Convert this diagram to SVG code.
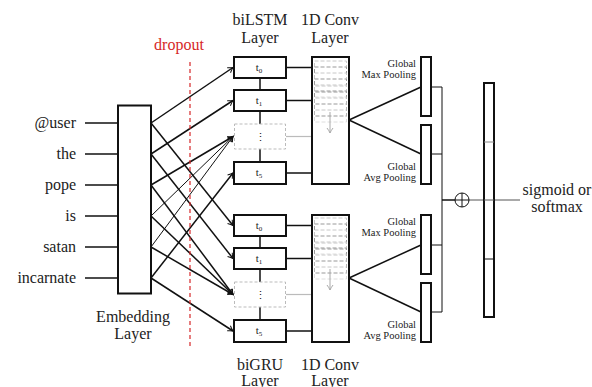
<svg xmlns="http://www.w3.org/2000/svg" width="592" height="387" viewBox="0 0 592 387">
<style>
text{font-family:'Liberation Serif','Times New Roman',serif;fill:#222}
.lbl{font-size:16px}
.mid{text-anchor:middle}
.end{text-anchor:end}
.sm{font-size:10.5px;text-anchor:end}
.tk{font-size:11px;text-anchor:middle}
.box{fill:#fff;stroke:#111;stroke-width:2}
.dot{fill:#fff;stroke:#bbb;stroke-width:1;stroke-dasharray:3 2}
.ln{stroke:#111;stroke-width:1.5;fill:none}
.thin{stroke:#111;stroke-width:1;fill:none}
.gl{stroke:#bbb;stroke-width:1.2;fill:none}
.arr{marker-end:url(#ah)}
.d1{fill:none;stroke:#999;stroke-width:1;stroke-dasharray:4 2}
.d2{fill:none;stroke:#c8c8c8;stroke-width:1;stroke-dasharray:4 2}
</style>
<defs>
<marker id="ah" markerWidth="8" markerHeight="8" refX="0" refY="0" viewBox="-6 -4 8 8" orient="auto" markerUnits="userSpaceOnUse">
<path d="M-5,-3 Q-2,-0.8 0,0 Q-2,0.8 -5,3" fill="none" stroke="#111" stroke-width="1"/>
</marker>
<marker id="gah" markerWidth="8" markerHeight="8" refX="0" refY="0" viewBox="-6 -4 8 8" orient="auto" markerUnits="userSpaceOnUse">
<path d="M-5,-3 Q-2,-0.8 0,0 Q-2,0.8 -5,3" fill="none" stroke="#aaa" stroke-width="1"/>
</marker>
<g id="convpat">
<rect x="314.5" y="61" width="32" height="25" class="d2"/>
<rect x="314.5" y="67" width="32" height="25" class="d1"/>
<rect x="314.5" y="73" width="32" height="25" class="d2"/>
<rect x="314.5" y="79" width="32" height="25" class="d1"/>
<rect x="314.5" y="85" width="32" height="25" class="d2"/>
<rect x="314.5" y="91" width="32" height="25" class="d1"/>
<rect x="314.5" y="97" width="32" height="25" class="d2" stroke-opacity="0.6"/>
<line x1="330" y1="112" x2="330" y2="133" stroke="#aaa" stroke-width="1" marker-end="url(#gah)"/>
</g>
</defs>

<g id="inputs">
<text class="lbl end" x="76" y="128">@user</text>
<text class="lbl end" x="76" y="159">the</text>
<text class="lbl end" x="76" y="190">pope</text>
<text class="lbl end" x="76" y="221">is</text>
<text class="lbl end" x="76" y="252">satan</text>
<text class="lbl end" x="76" y="283">incarnate</text>
</g>

<g id="connectors">
<line class="ln" x1="85" y1="123" x2="118" y2="123"/>
<line class="ln" x1="85" y1="154" x2="118" y2="154"/>
<line class="ln" x1="85" y1="185" x2="118" y2="185"/>
<line class="ln" x1="85" y1="216" x2="118" y2="216"/>
<line class="ln" x1="85" y1="247" x2="118" y2="247"/>
<line class="ln" x1="85" y1="278" x2="118" y2="278"/>
<line class="ln arr" x1="151" y1="123" x2="233" y2="67.5"/>
<line class="ln arr" x1="151" y1="154" x2="233" y2="100.5"/>
<line class="ln arr" x1="151" y1="185" x2="233" y2="136.5"/>
<line class="thin arr" x1="151" y1="216" x2="233" y2="136.5"/>
<line class="thin arr" x1="151" y1="247" x2="233" y2="136.5"/>
<line class="ln arr" x1="151" y1="278" x2="233" y2="173"/>
<line class="ln arr" x1="151" y1="123" x2="233" y2="225.5"/>
<line class="ln arr" x1="151" y1="154" x2="233" y2="258.5"/>
<line class="ln arr" x1="151" y1="185" x2="233" y2="294.5"/>
<line class="ln arr" x1="151" y1="216" x2="233" y2="294.5"/>
<line class="ln arr" x1="151" y1="247" x2="233" y2="294.5"/>
<line class="ln arr" x1="151" y1="278" x2="233" y2="331"/>
<line class="ln" x1="260" y1="78" x2="260" y2="90"/>
<line class="ln" x1="260" y1="111" x2="260" y2="124"/>
<line class="ln" x1="260" y1="149" x2="260" y2="162"/>
<line class="ln" x1="286" y1="67.5" x2="312" y2="67.5"/>
<line class="ln" x1="286" y1="100.5" x2="312" y2="100.5"/>
<line class="gl" x1="286" y1="136.5" x2="312" y2="136.5"/>
<line class="ln" x1="286" y1="173" x2="312" y2="173"/>
<line class="ln" x1="260" y1="236" x2="260" y2="248"/>
<line class="ln" x1="260" y1="269" x2="260" y2="282"/>
<line class="ln" x1="260" y1="307" x2="260" y2="320"/>
<line class="ln" x1="286" y1="225.5" x2="312" y2="225.5"/>
<line class="ln" x1="286" y1="258.5" x2="312" y2="258.5"/>
<line class="gl" x1="286" y1="294.5" x2="312" y2="294.5"/>
<line class="ln" x1="286" y1="331" x2="312" y2="331"/>
<line class="ln" x1="349" y1="120" x2="421" y2="87"/>
<line class="ln" x1="349" y1="120" x2="421" y2="154"/>
<line class="ln" x1="349" y1="278" x2="421" y2="245"/>
<line class="ln" x1="349" y1="278" x2="421" y2="312"/>
<line class="thin" x1="431" y1="87" x2="442" y2="87"/>
<line class="thin" x1="431" y1="154" x2="442" y2="154"/>
<line class="thin" x1="431" y1="245" x2="442" y2="245"/>
<line class="thin" x1="431" y1="312" x2="442" y2="312"/>
<line class="thin" x1="442" y1="87" x2="442" y2="312"/>
<line class="ln" x1="442" y1="200" x2="455" y2="200" stroke-width="2"/>
<line x1="469" y1="200" x2="520" y2="200" stroke="#555" stroke-width="1"/>
</g>

<g id="dropout">
<text class="lbl mid" x="179" y="50" style="fill:#d62728">dropout</text>
<line x1="190" y1="62" x2="190" y2="346" stroke="#d62728" stroke-width="1.2" stroke-dasharray="4 3"/>
</g>

<g id="embedding">
<rect class="box" x="118" y="105.5" width="33" height="188"/>
<text class="lbl mid" x="133" y="322">Embedding</text>
<text class="lbl mid" x="133" y="339">Layer</text>
</g>

<g id="bilstm">
<text class="lbl mid" x="260" y="25">biLSTM</text>
<text class="lbl mid" x="260" y="43">Layer</text>
<rect class="box" x="234" y="57" width="52" height="21"/>
<text class="tk" x="259" y="71">t<tspan font-size="7" dy="2">0</tspan></text>
<rect class="box" x="234" y="90" width="52" height="21"/>
<text class="tk" x="259" y="104">t<tspan font-size="7" dy="2">1</tspan></text>
<rect class="dot" x="234.5" y="124" width="51" height="25"/>
<text class="tk" x="260" y="141">⋮</text>
<rect class="box" x="234" y="162" width="52" height="22"/>
<text class="tk" x="259" y="176">t<tspan font-size="7" dy="2">5</tspan></text>
</g>

<g id="conv1">
<text class="lbl mid" x="330" y="25">1D Conv</text>
<text class="lbl mid" x="330" y="43">Layer</text>
<rect class="box" x="312" y="57" width="37" height="127"/>
<use href="#convpat"/>
</g>

<g id="bigru">
<text class="lbl mid" x="260" y="370">biGRU</text>
<text class="lbl mid" x="260" y="386">Layer</text>
<rect class="box" x="234" y="215" width="52" height="21"/>
<text class="tk" x="259" y="229">t<tspan font-size="7" dy="2">0</tspan></text>
<rect class="box" x="234" y="248" width="52" height="21"/>
<text class="tk" x="259" y="262">t<tspan font-size="7" dy="2">1</tspan></text>
<rect class="dot" x="234.5" y="282" width="51" height="25"/>
<text class="tk" x="260" y="299">⋮</text>
<rect class="box" x="234" y="320" width="52" height="22"/>
<text class="tk" x="259" y="334">t<tspan font-size="7" dy="2">5</tspan></text>
</g>

<g id="conv2">
<text class="lbl mid" x="330" y="370">1D Conv</text>
<text class="lbl mid" x="330" y="386">Layer</text>
<rect class="box" x="312" y="215" width="37" height="127"/>
<use href="#convpat" transform="translate(0,157)"/>
</g>

<g id="maxpool1">
<rect class="box" x="421" y="57" width="10" height="59"/>
<text class="sm" x="416" y="67">Global</text>
<text class="sm" x="416" y="78">Max Pooling</text>
</g>
<g id="avgpool1">
<rect class="box" x="421" y="125" width="10" height="59"/>
<text class="sm" x="416" y="170">Global</text>
<text class="sm" x="416" y="181">Avg Pooling</text>
</g>
<g id="maxpool2">
<rect class="box" x="421" y="215" width="10" height="59"/>
<text class="sm" x="416" y="225">Global</text>
<text class="sm" x="416" y="236">Max Pooling</text>
</g>
<g id="avgpool2">
<rect class="box" x="421" y="283" width="10" height="59"/>
<text class="sm" x="416" y="328">Global</text>
<text class="sm" x="416" y="339">Avg Pooling</text>
</g>

<g id="concat">
<circle cx="462" cy="200" r="7" fill="#fff" stroke="#111" stroke-width="1"/>
<line x1="455" y1="200" x2="469" y2="200" stroke="#111" stroke-width="1"/>
<line x1="462" y1="193" x2="462" y2="207" stroke="#111" stroke-width="1"/>
</g>

<g id="output">
<rect class="box" x="484" y="83" width="10" height="234"/>
<line x1="484" y1="142" x2="494" y2="142" stroke="#888" stroke-width="1"/>
<line x1="484" y1="259" x2="494" y2="259" stroke="#111" stroke-width="1"/>
<line x1="484" y1="200" x2="494" y2="200" stroke="#555" stroke-width="1"/>
<text class="lbl mid" x="557" y="195">sigmoid or</text>
<text class="lbl mid" x="557" y="212">softmax</text>
</g>
</svg>
